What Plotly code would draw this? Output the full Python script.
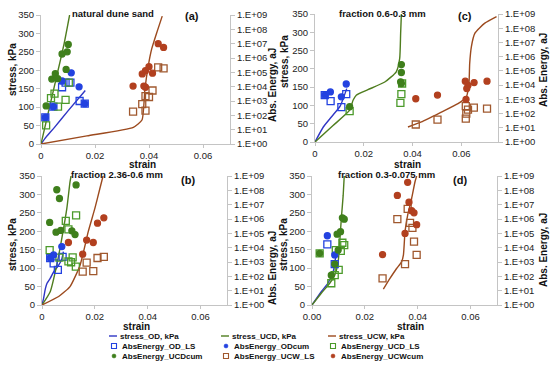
import plotly.graph_objects as go

W, H = 550, 366

# ---------------- data (strain, stress kPa) / (strain, abs. energy aJ) ----------------
A_STRESS_OD = [(0, 0), (0.002, 20), (0.005, 45), (0.010, 90), (0.0164, 145)]
A_STRESS_UCD = [(0, 0), (0.003, 95), (0.006, 190), (0.0085, 270), (0.0106, 350)]
A_STRESS_UCW = [(0, 0), (0.017, 22), (0.0342, 45), (0.0374, 65), (0.0385, 150), (0.0398, 215),
                (0.041, 258), (0.043, 305), (0.0449, 347)]
A_OD_LS = [(0.0016, 71), (0.0046, 400), (0.0162, 650), (0.0078, 9.1e3), (0.0091, 1.9e4),
           (0.0109, 1.9e4), (0.0143, 1.0e3)]
A_OD_CUM = [(0.0016, 71), (0.0046, 400), (0.0162, 650), (0.0078, 2.5e4), (0.0112, 9.2e4), (0.0141, 9.7e3)]
A_UCD_LS = [(0.0019, 20), (0.0037, 1.6e3), (0.005, 3.3e3), (0.0063, 4.0e2), (0.0091, 1.2e3), (0.0103, 1.9e4)]
A_UCD_CUM = [(0.0019, 4.5e2), (0.004, 3.4e4), (0.0053, 8.1e4), (0.0062, 3.6e4), (0.0078, 1.9e6),
             (0.0093, 1.6e5), (0.0097, 2.7e6), (0.0101, 8.8e6)]
A_UCW_LS = [(0.0341, 1.8e2), (0.0375, 6.0e2), (0.0387, 2.2e3), (0.04, 1.9e3), (0.0413, 5.4e3),
            (0.0387, 2.1e2), (0.0434, 2.2e5), (0.0454, 1.9e5)]
A_UCW_CUM = [(0.0341, 1.1e4), (0.0375, 7.7e4), (0.0387, 1.3e5), (0.04, 2.5e5), (0.0381, 1.1e4),
             (0.0387, 9.1e3), (0.0413, 8.7e4), (0.0434, 1.0e7), (0.0454, 5.5e6)]

B_STRESS_OD = [(0, 0), (0.0006, 18), (0.0013, 45), (0.0019, 59), (0.0031, 72), (0.0044, 90),
               (0.0063, 108), (0.0075, 125), (0.0081, 145)]
B_STRESS_UCD = [(0, 0), (0.0031, 36), (0.0056, 109), (0.0075, 181), (0.0094, 262), (0.0106, 334), (0.011, 350)]
B_STRESS_UCW = [(0, 0), (0.0063, 23), (0.0106, 50), (0.0144, 108), (0.0175, 199), (0.02, 262),
                (0.0219, 316), (0.0231, 350)]
B_OD_LS = [(0.0031, 1.9e3), (0.0044, 8.1e2), (0.006, 2.8e2), (0.0078, 2.3e3)]
B_OD_CUM = [(0.0031, 1.9e3), (0.0044, 3.1e3), (0.0075, 1.2e4)]
B_UCD_LS = [(0.0029, 6.8e3), (0.009, 7.3e5), (0.01, 1.9e5), (0.0129, 1.8e6), (0.0066, 2.0e3),
            (0.0116, 2.1e3), (0.01, 1.1e3), (0.011, 9.6e2), (0.0128, 4.7e2)]
B_UCD_CUM = [(0.0029, 5.8e5), (0.0053, 1.2e5), (0.0071, 1.6e5), (0.0056, 1.1e8), (0.0066, 2.7e7),
             (0.0129, 2.4e8), (0.0113, 1.5e5), (0.0125, 8.2e4)]
B_UCW_LS = [(0.0154, 2.1e2), (0.0169, 9.1e2), (0.0194, 2.3e2), (0.021, 1.9e3), (0.0234, 2.3e3)]
B_UCW_CUM = [(0.01, 2.3e4), (0.0154, 3.5e3), (0.0169, 3.4e4), (0.0194, 2.3e4), (0.021, 5.1e5), (0.0234, 1.2e6)]

C_STRESS_OD = [(0, 0), (0.0034, 41), (0.0068, 69), (0.0103, 98), (0.013, 146)]
C_STRESS_UCD = [(0, 0), (0.0074, 45), (0.0142, 87), (0.0156, 114), (0.0169, 128), (0.0217, 143),
                (0.0286, 164), (0.0333, 192), (0.0347, 228), (0.0351, 297), (0.0354, 350)]
C_STRESS_UCW = [(0.0381, 41), (0.0436, 55), (0.0518, 82), (0.0586, 105), (0.062, 123), (0.0631, 160),
                (0.0634, 215), (0.0641, 261), (0.0655, 297), (0.0696, 325), (0.0744, 343)]
C_OD_LS = [(0.004, 2.0e3), (0.0064, 7.6e2), (0.0108, 2.8e2), (0.0128, 2.3e3)]
C_OD_CUM = [(0.004, 2.0e3), (0.0063, 3.3e3), (0.0108, 1.5e3), (0.0128, 1.2e4)]
C_UCD_LS = [(0.0142, 1.5e2), (0.0357, 1.3e4), (0.0354, 2.3e3), (0.035, 5.6e2)]
C_UCD_CUM = [(0.0142, 3.0e2), (0.0354, 2.8e5), (0.0354, 7.7e4), (0.0351, 1.7e4), (0.0354, 1.3e4)]
C_UCW_LS = [(0.0413, 17), (0.0502, 37), (0.0618, 3.3e2), (0.062, 1.0e2), (0.0618, 44), (0.0627, 1.9e2),
            (0.0651, 2.6e2), (0.0705, 2.2e2)]
C_UCW_CUM = [(0.0413, 1.1e3), (0.0502, 2.0e3), (0.0616, 1.9e4), (0.0627, 9.7e3), (0.0622, 5.7e3),
             (0.0652, 1.5e4), (0.0705, 1.9e4), (0.0619, 1.0e3)]

D_STRESS_OD = [(0, 0), (0.0035, 36), (0.006, 59), (0.0078, 85), (0.0086, 110), (0.009, 138)]
D_STRESS_UCD = [(0, 0), (0.0035, 32), (0.0067, 59), (0.0086, 81), (0.0099, 117), (0.0105, 172),
                (0.0111, 235), (0.0118, 298), (0.0122, 350)]
D_STRESS_UCW = [(0.027, 43), (0.0295, 72), (0.032, 99), (0.0339, 117), (0.0346, 136), (0.0352, 199),
                (0.0362, 244), (0.0377, 289), (0.039, 335), (0.0396, 350)]
D_OD_LS = [(0.0058, 1.7e4), (0.0086, 7.2e2)]
D_OD_CUM = [(0.0058, 6.8e4), (0.0086, 3.1e3)]
D_UCD_LS = [(0.0029, 4.0e3), (0.0073, 33), (0.0086, 1.2e2), (0.0101, 2.8e2), (0.009, 6.8e3),
            (0.0109, 6.0e3), (0.0115, 2.2e4), (0.0122, 1.5e4)]
D_UCD_CUM = [(0.0029, 4.0e3), (0.0073, 1.2e2), (0.0086, 7.2e2), (0.0095, 8.7e4), (0.0108, 1.3e5),
             (0.0099, 6.8e3), (0.0115, 1.2e6), (0.0122, 9.8e5)]
D_UCW_LS = [(0.0267, 71), (0.0323, 9.8e5), (0.0352, 7.2e2), (0.0362, 5.1e6), (0.0371, 5.4e5),
            (0.038, 2.4e5), (0.0386, 2.6e4), (0.0396, 3.1e3)]
D_UCW_CUM = [(0.0267, 3.3e3), (0.0323, 4.4e7), (0.0352, 9.8e4), (0.0367, 1.5e7), (0.0377, 3.8e6),
             (0.0386, 2.7e6), (0.0396, 4.0e5), (0.0362, 3.6e8)]

PANEL_TITLES = ["natural dune sand", "fraction 2.36-0.6 mm", "fraction 0.6-0.3 mm", "fraction 0.3-0.075 mm"]
PANEL_LETTERS = ["(a)", "(b)", "(c)", "(d)"]
STRESS_TICKS = [0, 50, 100, 150, 200, 250, 300, 350]
STRAIN_TICKS = [0, 0.02, 0.04, 0.06]
ENERGY_TICKS = [1e0, 1e1, 1e2, 1e3, 1e4, 1e5, 1e6, 1e7, 1e8, 1e9]
ENERGY_LABELS = ["1.E+00", "1.E+01", "1.E+02", "1.E+03", "1.E+04", "1.E+05", "1.E+06", "1.E+07", "1.E+08", "1.E+09"]
LEGEND_LABELS = ["stress_OD, kPa", "stress_UCD, kPa", "stress_UCW, kPa",
                 "AbsEnergy_OD_LS", "AbsEnergy_ODcum", "AbsEnergy_UCD_LS",
                 "AbsEnergy_UCDcum", "AbsEnergy_UCW_LS", "AbsEnergy_UCWcum"]

PANEL_DATA = [
    (A_STRESS_OD, A_STRESS_UCD, A_STRESS_UCW, A_OD_LS, A_OD_CUM, A_UCD_LS, A_UCD_CUM, A_UCW_LS, A_UCW_CUM),
    (B_STRESS_OD, B_STRESS_UCD, B_STRESS_UCW, B_OD_LS, B_OD_CUM, B_UCD_LS, B_UCD_CUM, B_UCW_LS, B_UCW_CUM),
    (C_STRESS_OD, C_STRESS_UCD, C_STRESS_UCW, C_OD_LS, C_OD_CUM, C_UCD_LS, C_UCD_CUM, C_UCW_LS, C_UCW_CUM),
    (D_STRESS_OD, D_STRESS_UCD, D_STRESS_UCW, D_OD_LS, D_OD_CUM, D_UCD_LS, D_UCD_CUM, D_UCW_LS, D_UCW_CUM),
]

# ---------------- styling ----------------
C_OD_LINE = "#2f35c4"
C_UCD_LINE = "#4f7d1f"
C_UCW_LINE = "#9c4a1e"
C_OD_MK = "#2342e0"
C_UCD_MK = "#3f7f1c"
C_UCD_SQ = "#4b9a2a"
C_UCW_SQ = "#a0582e"
C_UCW_MK = "#b2401f"
AXIS_COL = "#c4c4c4"
FONT = "Liberation Sans"

# pixel boxes (left, right, top, bottom) for panels a, b, c, d
BOXES = [(41, 230, 15, 144), (42, 227, 176, 305), (315, 498, 14, 142), (312, 497, 176, 305)]
XMAX = [0.07, 0.07, 0.075, 0.07]


def px(x):
    return x / W


def py(y):
    return 1 - y / H


fig = go.Figure()
layout = dict(
    template="none",
    width=W, height=H, margin=dict(l=0, r=0, t=0, b=0, autoexpand=False),
    paper_bgcolor="white", plot_bgcolor="rgba(0,0,0,0)",
    showlegend=False, font=dict(family=FONT, size=10, color="#222222"),
)

for i, data in enumerate(PANEL_DATA):
    n = i + 1
    xs = "x" if n == 1 else f"x{n}"
    ys = "y" if n == 1 else f"y{n}"
    yr = f"y{n + 4}"
    l, r, t, b = BOXES[i]
    axis_common = dict(showline=True, linecolor=AXIS_COL, linewidth=1, showgrid=False, zeroline=False,
                       automargin=False, ticks="outside", tickcolor=AXIS_COL, ticklen=4,
                       tickfont=dict(size=9.5, color="#222"))
    layout["xaxis" if n == 1 else f"xaxis{n}"] = dict(
        domain=[px(l), px(r)], anchor=ys, range=[0, XMAX[i]], tickvals=STRAIN_TICKS,
        tickformat=".2f" if n == 4 else None, **{**axis_common, "ticklen": 3})
    layout["yaxis" if n == 1 else f"yaxis{n}"] = dict(
        domain=[py(b), py(t)], anchor=xs, range=[0, 350], tickvals=STRESS_TICKS, **axis_common)
    layout[f"yaxis{n + 4}"] = dict(
        overlaying=ys, anchor=xs, side="right", type="log", range=[0, 9],
        tickvals=ENERGY_TICKS, ticktext=ENERGY_LABELS, **axis_common)

    s_od, s_ucd, s_ucw, od_ls, od_cum, ucd_ls, ucd_cum, ucw_ls, ucw_cum = data
    for series, col, name in [(s_od, C_OD_LINE, LEGEND_LABELS[0]), (s_ucd, C_UCD_LINE, LEGEND_LABELS[1]),
                              (s_ucw, C_UCW_LINE, LEGEND_LABELS[2])]:
        fig.add_trace(go.Scatter(x=[p[0] for p in series], y=[p[1] for p in series], mode="lines",
                                 name=name, line=dict(color=col, width=1.4, shape="spline", smoothing=0.5),
                                 xaxis=xs, yaxis=ys))
    markers = [
        (od_ls, "square-open", C_OD_MK, 7, LEGEND_LABELS[3]),
        (ucd_ls, "square-open", C_UCD_SQ, 7, LEGEND_LABELS[5]),
        (ucw_ls, "square-open", C_UCW_SQ, 7, LEGEND_LABELS[7]),
        (od_cum, "circle", C_OD_MK, 6, LEGEND_LABELS[4]),
        (ucd_cum, "circle", C_UCD_MK, 6, LEGEND_LABELS[6]),
        (ucw_cum, "circle", C_UCW_MK, 6, LEGEND_LABELS[8]),
    ]
    for series, sym, col, size, name in markers:
        fig.add_trace(go.Scatter(x=[p[0] for p in series], y=[p[1] for p in series], mode="markers",
                                 name=name, marker=dict(symbol=sym, color=col, size=size,
                                                        line=dict(color=col, width=1.3)),
                                 xaxis=xs, yaxis=yr))

annotations = []
shapes = []


def note(text, x, y, size=10, bold=True, angle=0, xanchor="center"):
    annotations.append(dict(text=f"<b>{text}</b>" if bold else text, x=px(x), y=py(y), xref="paper",
                            yref="paper", showarrow=False, textangle=angle, xanchor=xanchor,
                            yanchor="middle", font=dict(size=size, family=FONT, color="#111111")))


# panel titles and letters
TITLE_POS = [(113, 13), (117, 174), (382, 13), (386, 174)]
LETTER_POS = [(192, 16), (188, 180), (465, 16), (460, 180)]
for i in range(4):
    note(PANEL_TITLES[i], *TITLE_POS[i], size=9.5)
    note(PANEL_LETTERS[i], *LETTER_POS[i], size=11)

# axis titles
for x, y in [(12, 70), (285, 62), (12, 245), (283, 245)]:
    note("stress, kPa", x, y, size=10, angle=-90)
for x, y in [(272, 85), (543, 70), (272, 268), (543, 250)]:
    note("Abs. Energy, aJ", x, y, size=10, angle=-90)
for x, y in [(142, 165), (407, 165), (136, 326), (410, 326)]:
    note("strain", x, y, size=10)

# manual legend (3 columns x 3 rows)
COLS = [109, 221, 328]
ROWS = [336, 346, 356]
LEG_STYLE = [
    ("line", C_OD_LINE), ("line", C_UCD_LINE), ("line", C_UCW_LINE),
    ("square", C_OD_MK), ("circle", C_OD_MK), ("square", C_UCD_SQ),
    ("circle", C_UCD_MK), ("square", C_UCW_SQ), ("circle", C_UCW_MK),
]
for k, label in enumerate(LEGEND_LABELS):
    row, col = divmod(k, 3)
    x0, y0 = COLS[col], ROWS[row]
    kind, colr = LEG_STYLE[k]
    if kind == "line":
        shapes.append(dict(type="line", xref="paper", yref="paper", x0=px(x0), x1=px(x0 + 8),
                           y0=py(y0), y1=py(y0), line=dict(color=colr, width=1.4)))
        tx = x0 + 8.5
    elif kind == "square":
        shapes.append(dict(type="rect", xref="paper", yref="paper", x0=px(x0 + 2.5), x1=px(x0 + 7.5),
                           y0=py(y0 + 2.5), y1=py(y0 - 2.5), line=dict(color=colr, width=1.1)))
        tx = x0 + 10.5
    else:
        shapes.append(dict(type="circle", xref="paper", yref="paper", x0=px(x0 + 3), x1=px(x0 + 7),
                           y0=py(y0 + 2), y1=py(y0 - 2), fillcolor=colr, line=dict(color=colr, width=0.5)))
        tx = x0 + 10.5
    note(label, tx, y0, size=8, bold=True, xanchor="left")

layout["annotations"] = annotations
layout["shapes"] = shapes
fig.update_layout(**layout)
fig.write_html("out.html", config={"displayModeBar": False},
               post_script="document.body.style.margin='0px';")
